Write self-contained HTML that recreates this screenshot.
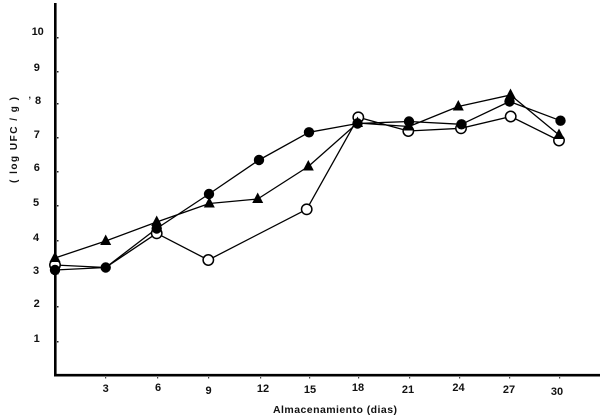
<!DOCTYPE html>
<html>
<head>
<meta charset="utf-8">
<style>
  html,body{margin:0;padding:0;background:#fff;}
  svg{display:block;}
  text{font-family:"Liberation Sans",Arial,sans-serif;fill:#111;}
</style>
</head>
<body>
<svg width="600" height="418" viewBox="0 0 600 418" xmlns="http://www.w3.org/2000/svg">
  <rect width="600" height="418" fill="#fff"/>

  <!-- axes -->
  <line x1="55.3" y1="3" x2="55.3" y2="376.5" stroke="#000" stroke-width="2.6"/>
  <line x1="54" y1="375.2" x2="600" y2="375.2" stroke="#000" stroke-width="2.6"/>

  <!-- y tick dots -->
  <g fill="#222">
    <rect x="57" y="37" width="1.5" height="1.5"/>
    <rect x="57" y="71" width="1.5" height="1.5"/>
    <rect x="57" y="103" width="1.5" height="1.5"/>
    <rect x="57" y="137" width="1.5" height="1.5"/>
    <rect x="57" y="171" width="1.5" height="1.5"/>
    <rect x="57" y="205" width="1.5" height="1.5"/>
    <rect x="57" y="240" width="1.5" height="1.5"/>
    <rect x="57" y="273" width="1.5" height="1.5"/>
    <rect x="57" y="306" width="1.5" height="1.5"/>
    <rect x="57" y="341" width="1.5" height="1.5"/>
  </g>
  <!-- x tick dots -->
  <g fill="#444">
    <rect x="105" y="377" width="1.2" height="1.5"/>
    <rect x="157" y="377" width="1.2" height="1.5"/>
    <rect x="208" y="377" width="1.2" height="1.5"/>
    <rect x="260" y="377" width="1.2" height="1.5"/>
    <rect x="309" y="377" width="1.2" height="1.5"/>
    <rect x="358" y="377" width="1.2" height="1.5"/>
    <rect x="409" y="377" width="1.2" height="1.5"/>
    <rect x="459" y="377" width="1.2" height="1.5"/>
    <rect x="509" y="377" width="1.2" height="1.5"/>
    <rect x="559" y="377" width="1.2" height="1.5"/>
  </g>

  <!-- y tick labels -->
  <g font-size="11" font-weight="bold" text-anchor="middle">
    <text x="37.7" y="35">10</text>
    <text x="36.8" y="71">9</text>
    <text x="38" y="104">8</text>
    <text x="36.8" y="138">7</text>
    <text x="36.8" y="171">6</text>
    <text x="36" y="206">5</text>
    <text x="36" y="241">4</text>
    <text x="36" y="274">3</text>
    <text x="36.7" y="307">2</text>
    <text x="36.7" y="342">1</text>
  </g>
  <text x="28.5" y="98" font-size="9" font-weight="bold">,</text>

  <!-- x tick labels -->
  <g font-size="11" font-weight="bold" text-anchor="middle">
    <text x="105.7" y="392">3</text>
    <text x="158" y="391">6</text>
    <text x="208.6" y="394">9</text>
    <text x="263" y="392">12</text>
    <text x="310" y="393">15</text>
    <text x="358" y="391">18</text>
    <text x="408" y="393">21</text>
    <text x="458.5" y="391">24</text>
    <text x="509" y="393">27</text>
    <text x="557" y="395">30</text>
  </g>

  <!-- axis titles -->
  <text x="273" y="413" font-size="10.5" font-weight="bold" textLength="124" lengthAdjust="spacing">Almacenamiento (dias)</text>
  <text transform="translate(17,183) rotate(-90)" font-size="10" font-weight="bold" textLength="86" lengthAdjust="spacing">( log UFC / g )</text>

  <!-- series lines -->
  <g fill="none" stroke="#000" stroke-width="1.3" stroke-linejoin="round">
    <!-- open circles -->
    <polyline points="55,265 105.7,267.5 156.7,233.3 208.3,260 306.7,209.3 358.3,117.3 408.3,131 461,128.3 510.7,116.5 559,140.5"/>
    <!-- triangles -->
    <polyline points="55,258 105.7,241 156.7,222 209.3,203.5 257.7,199 308.3,166.5 357.5,123 409,126.5 458.3,106.5 510.5,95 559,135"/>
    <!-- filled circles -->
    <polyline points="55,270 105.7,267.5 156.7,228.5 209,194 259,160 309,132.3 357.5,123.5 409,121.5 461.5,124.3 509.5,101.5 560.5,120.7"/>
  </g>

  <!-- open circle markers -->
  <g fill="#fff" stroke="#000" stroke-width="1.5">
    <circle cx="55" cy="265" r="5.2"/>
    <circle cx="156.7" cy="233.3" r="5.2"/>
    <circle cx="208.3" cy="260" r="5.2"/>
    <circle cx="306.7" cy="209.3" r="5.2"/>
    <circle cx="358.3" cy="117.3" r="5.2"/>
    <circle cx="408.3" cy="131" r="5.2"/>
    <circle cx="461" cy="128.3" r="5.2"/>
    <circle cx="510.7" cy="116.5" r="5.2"/>
    <circle cx="559" cy="140.5" r="5.2"/>
  </g>

  <!-- triangle markers -->
  <g fill="#000">
    <polygon points="55,251.5 60.5,262 49.5,262"/>
    <polygon points="105.7,234.5 111.2,245 100.2,245"/>
    <polygon points="156.7,215.5 162.2,226 151.2,226"/>
    <polygon points="209.3,197 214.8,207.5 203.8,207.5"/>
    <polygon points="257.7,192.5 263.2,203 252.2,203"/>
    <polygon points="308.3,160 313.8,170.5 302.8,170.5"/>
    <polygon points="357.5,116.5 363,127 352,127"/>
    <polygon points="409,120 414.5,130.5 403.5,130.5"/>
    <polygon points="458.3,100 463.8,110.5 452.8,110.5"/>
    <polygon points="510.5,88.5 516,99 505,99"/>
    <polygon points="559,128.5 564.5,139 553.5,139"/>
  </g>

  <!-- filled circle markers -->
  <g fill="#000">
    <circle cx="55" cy="270" r="5.2"/>
    <circle cx="105.7" cy="267.5" r="5.2"/>
    <circle cx="156.7" cy="228.5" r="5.2"/>
    <circle cx="209" cy="194" r="5.2"/>
    <circle cx="259" cy="160" r="5.2"/>
    <circle cx="309" cy="132.3" r="5.2"/>
    <circle cx="357.5" cy="123.5" r="5.2"/>
    <circle cx="409" cy="121.5" r="5.2"/>
    <circle cx="461.5" cy="124.3" r="5.2"/>
    <circle cx="509.5" cy="101.5" r="5.2"/>
    <circle cx="560.5" cy="120.7" r="5.2"/>
  </g>
</svg>
</body>
</html>
